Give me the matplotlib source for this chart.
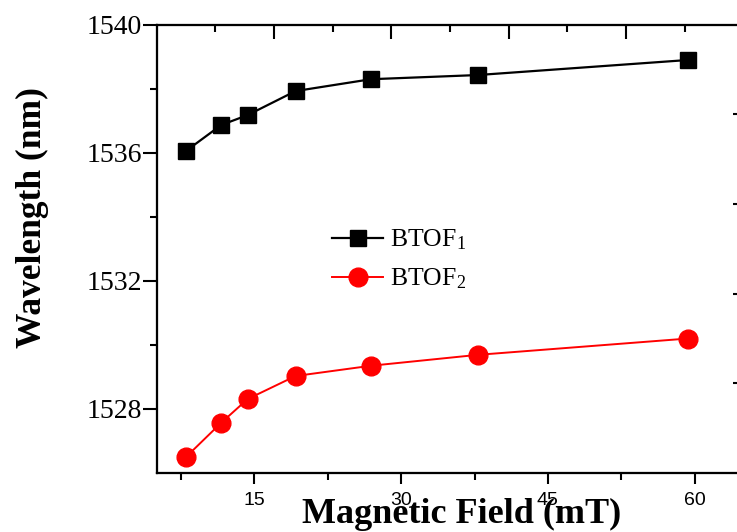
import matplotlib
matplotlib.use('Agg')
import matplotlib.pyplot as plt
from matplotlib.ticker import FixedLocator

plt.rcParams['mathtext.fontset'] = 'custom'
plt.rcParams['mathtext.rm'] = 'Liberation Serif'
plt.rcParams['mathtext.it'] = 'Liberation Serif:italic'

# Datos
field = [8.0, 11.6, 14.3, 19.2, 26.9, 37.8, 59.3]
btof1 = [1536.06, 1536.87, 1537.18, 1537.93, 1538.30, 1538.43, 1538.90]
btof2 = [1526.50, 1527.57, 1528.31, 1529.03, 1529.35, 1529.69, 1530.20]

x_major = [15, 30, 45, 60]
x_minor = [7.5, 22.5, 37.5, 52.5]
y_major = [1528, 1532, 1536, 1540]
y_minor = [1530, 1534, 1538]
top_major = [17, 29, 41, 53]
top_minor = [11, 23, 35, 47, 59]
right_ticks = [1528.8, 1531.6, 1534.4, 1537.2]

fig = plt.figure(figsize=(7.37, 5.32), dpi=100)
ax = fig.add_axes([0.2126, 0.1109, 0.7963, 0.8425])

ax.plot(field, btof1, color='black', lw=1.6, marker='s', ms=12, label='BTOF$_1$')
ax.plot(field, btof2, color='red', lw=1.4, marker='o', ms=13.5, label='BTOF$_2$')

ax.set_xlim(5, 65)
ax.set_ylim(1526, 1540)

ax.xaxis.set_major_locator(FixedLocator(x_major))
ax.xaxis.set_minor_locator(FixedLocator(x_minor))
ax.yaxis.set_major_locator(FixedLocator(y_major))
ax.yaxis.set_minor_locator(FixedLocator(y_minor))

ax.tick_params(axis='x', which='major', direction='out', length=8, width=1.5, pad=6,
               labelsize=14, labelfontfamily='Liberation Sans')
ax.tick_params(axis='x', which='minor', direction='out', length=5, width=1.5)
ax.tick_params(axis='y', which='major', direction='out', length=10, width=1.5, pad=0.5,
               labelsize=20, labelfontfamily='Liberation Serif')
ax.tick_params(axis='y', which='minor', direction='out', length=5, width=1.5)
ax.tick_params(top=False, right=False)

for s in ax.spines.values():
    s.set_linewidth(1.5)

# ejes secundarios (marcas de arriba y derecha)
axt = ax.twiny()
axt.set_xlim(5, 65)
axt.xaxis.set_major_locator(FixedLocator(top_major))
axt.xaxis.set_minor_locator(FixedLocator(top_minor))
axt.tick_params(axis='x', which='major', direction='in', length=10, width=1.5, labeltop=False)
axt.tick_params(axis='x', which='minor', direction='in', length=5, width=1.5)

axr = ax.twinx()
axr.set_ylim(1526, 1540)
axr.yaxis.set_major_locator(FixedLocator(right_ticks))
axr.tick_params(axis='y', which='major', direction='in', length=8, width=1.5, labelright=False)
for a in (axt, axr):
    for s in a.spines.values():
        s.set_linewidth(1.5)

ax.set_xlabel('Magnetic Field (mT)', fontfamily='Liberation Serif', fontweight='bold', fontsize=26)
ax.xaxis.set_label_coords(0.52, -0.056)
ax.set_ylabel('Wavelength (nm)', fontfamily='Liberation Serif', fontweight='bold', fontsize=25.5)
ax.yaxis.set_label_coords(-0.1835, 0.57)

leg = ax.legend(loc='upper left', bbox_to_anchor=(319 / 737, 1 - 215 / 532),
                bbox_transform=fig.transFigure, frameon=False, borderpad=0,
                handlelength=2.0, handletextpad=0.25, labelspacing=0.55,
                prop={'family': 'Liberation Serif', 'size': 18.5})

fig.savefig('out.png', dpi=100)
